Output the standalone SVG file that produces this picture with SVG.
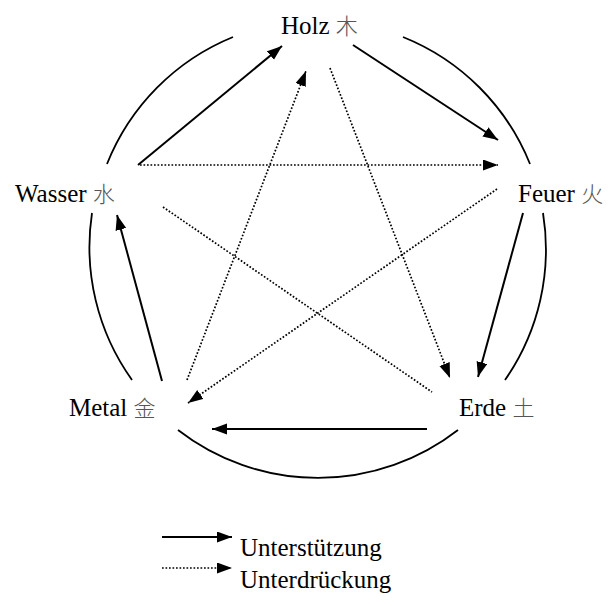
<svg xmlns="http://www.w3.org/2000/svg" width="611" height="606" viewBox="0 0 611 606">
<style>
.lbl{font-family:'Liberation Serif','Tinos','Times New Roman','DejaVu Serif',serif;font-size:25px;fill:#000}
.cjk{font-family:'Noto Sans CJK SC','Noto Sans CJK JP',sans-serif;font-size:22px;fill:#555;font-weight:300}
.arc{fill:none;stroke:#000;stroke-width:1.8}
.sol{fill:none;stroke:#000;stroke-width:2}
.dot{fill:none;stroke:#000;stroke-width:1.7;stroke-dasharray:1.7 1.8}
</style>
<defs>
<marker id="ah" markerUnits="userSpaceOnUse" markerWidth="16" markerHeight="12" refX="15" refY="5.5" orient="auto">
<path d="M0,0 L15,5.5 L0,11 z" fill="#000"/>
</marker>
</defs>
<g id="circle">
<path class="arc" d="M107,164 A228.5,228.5 0 0 1 233,37"/>
<path class="arc" d="M403,37 A228.5,228.5 0 0 1 530,164"/>
<path class="arc" d="M543,213 A228.5,228.5 0 0 1 505,380"/>
<path class="arc" d="M458,430 A228.5,228.5 0 0 1 178,430"/>
<path class="arc" d="M132,380 A228.5,228.5 0 0 1 92,213"/>
</g>
<g id="connectors">
<line class="sol" x1="138" y1="165" x2="282" y2="46" marker-end="url(#ah)"/>
<line class="sol" x1="353" y1="45" x2="498" y2="140" marker-end="url(#ah)"/>
<line class="sol" x1="523" y1="213" x2="478" y2="377" marker-end="url(#ah)"/>
<line class="sol" x1="427" y1="429" x2="212" y2="429" marker-end="url(#ah)"/>
<line class="sol" x1="162" y1="381" x2="117" y2="215" marker-end="url(#ah)"/>
<line class="dot" x1="140" y1="165" x2="498" y2="165" marker-end="url(#ah)"/>
<line class="dot" x1="330" y1="68" x2="450" y2="378" marker-end="url(#ah)"/>
<line class="dot" x1="187" y1="380" x2="306" y2="71" marker-end="url(#ah)"/>
<line class="dot" x1="497" y1="189" x2="188" y2="403" marker-end="url(#ah)"/>
<line class="dot" x1="163" y1="207" x2="432" y2="392"/>
</g>
<g id="holz"><text class="lbl" x="281" y="34">Holz <tspan class="cjk">木</tspan></text></g>
<g id="feuer"><text class="lbl" x="518" y="202">Feuer <tspan class="cjk">火</tspan></text></g>
<g id="wasser"><text class="lbl" x="15" y="202">Wasser <tspan class="cjk">水</tspan></text></g>
<g id="metal"><text class="lbl" x="69" y="416">Metal <tspan class="cjk">金</tspan></text></g>
<g id="erde"><text class="lbl" x="459" y="416">Erde <tspan class="cjk">土</tspan></text></g>
<g id="legend">
<line class="sol" x1="162" y1="537" x2="232" y2="537" marker-end="url(#ah)"/>
<line class="dot" x1="162" y1="568" x2="232" y2="568" marker-end="url(#ah)"/>
<text class="lbl" x="240" y="556">Unterstützung</text>
<text class="lbl" x="240" y="588">Unterdrückung</text>
</g>
</svg>
